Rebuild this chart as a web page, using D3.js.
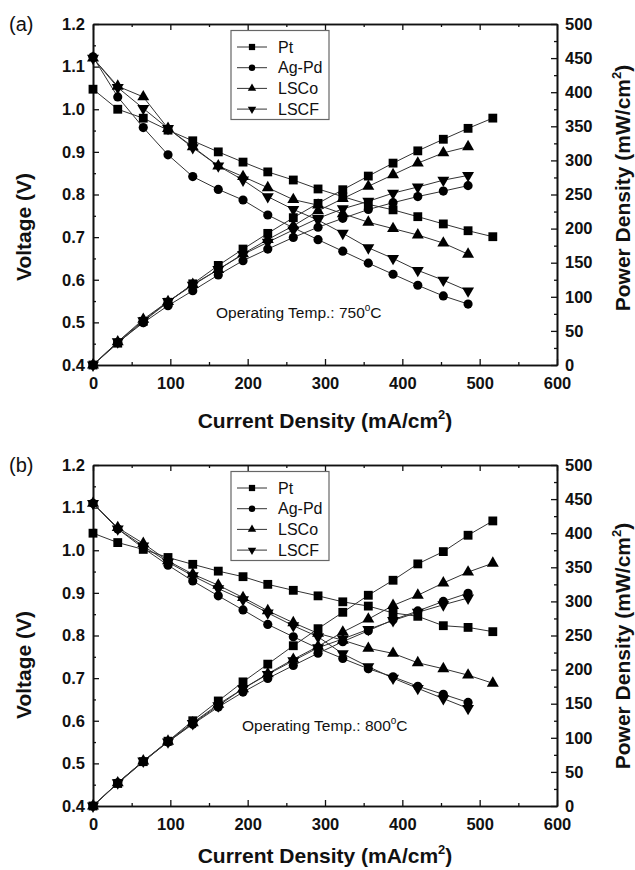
<!DOCTYPE html>
<html>
<head>
<meta charset="utf-8">
<script src="https://cdn.jsdelivr.net/npm/d3@7"></script>
<style>
  body { margin: 0; background: #fff; }
  svg { display: block; font-family: "Liberation Sans", Arial, sans-serif; }
</style>
</head>
<body>
<div id="chart"></div>
<script>
// current density (mA/cm2) shared by every series
const current = [0, 32, 65, 97, 129, 162, 194, 226, 259, 291, 323, 356, 388, 420, 453, 485, 517];
const materials = ["Pt", "Ag-Pd", "LSCo", "LSCF"];

// (a) 750 C
const voltA = {
  "Pt":    [1.047, 1.000, 0.979, 0.951, 0.926, 0.900, 0.876, 0.853, 0.834, 0.813, 0.795, 0.777, 0.764, 0.748, 0.731, 0.715, 0.701],
  "Ag-Pd": [1.123, 1.029, 0.957, 0.893, 0.842, 0.812, 0.787, 0.752, 0.722, 0.694, 0.667, 0.639, 0.613, 0.587, 0.562, 0.543],
  "LSCo":  [1.120, 1.054, 1.029, 0.955, 0.912, 0.867, 0.842, 0.816, 0.788, 0.775, 0.755, 0.735, 0.720, 0.705, 0.686, 0.660],
  "LSCF":  [1.120, 1.051, 1.002, 0.955, 0.910, 0.867, 0.834, 0.795, 0.765, 0.740, 0.709, 0.675, 0.650, 0.622, 0.599, 0.574]
};
const powerA = {
  "Pt":    [0, 32, 64, 92, 119, 146, 170, 193, 216, 237, 257, 277, 296, 314, 331, 347, 362],
  "Ag-Pd": [0, 33, 62, 87, 109, 132, 153, 170, 187, 202, 215, 228, 238, 247, 255, 263],
  "LSCo":  [0, 34, 67, 93, 118, 140, 163, 184, 204, 226, 244, 262, 279, 296, 311, 320],
  "LSCF":  [0, 34, 65, 93, 117, 140, 162, 180, 198, 215, 229, 240, 252, 261, 271, 278]
};

// (b) 800 C
const voltB = {
  "Pt":    [1.040, 1.018, 1.002, 0.983, 0.967, 0.951, 0.938, 0.920, 0.906, 0.893, 0.879, 0.869, 0.853, 0.845, 0.823, 0.819, 0.809],
  "Ag-Pd": [1.110, 1.050, 1.005, 0.965, 0.928, 0.893, 0.860, 0.826, 0.797, 0.770, 0.746, 0.722, 0.703, 0.681, 0.662, 0.643],
  "LSCo":  [1.110, 1.053, 1.016, 0.975, 0.944, 0.918, 0.889, 0.858, 0.830, 0.805, 0.789, 0.770, 0.758, 0.736, 0.722, 0.707, 0.688],
  "LSCF":  [1.110, 1.050, 1.010, 0.972, 0.940, 0.910, 0.884, 0.853, 0.823, 0.797, 0.757, 0.727, 0.700, 0.676, 0.652, 0.629]
};
const powerB = {
  "Pt":    [0, 33, 65, 95, 125, 154, 182, 208, 235, 260, 284, 309, 331, 355, 373, 397, 418],
  "Ag-Pd": [0, 34, 65, 94, 120, 145, 167, 187, 206, 224, 241, 257, 273, 286, 300, 312],
  "LSCo":  [0, 34, 66, 95, 122, 149, 172, 194, 215, 234, 255, 274, 294, 309, 327, 343, 356],
  "LSCF":  [0, 34, 66, 94, 121, 147, 172, 193, 213, 232, 245, 259, 272, 284, 295, 305]
};

const W = 635, H = 870;
const svg = d3.select("#chart").append("svg").attr("width", W).attr("height", H);

const symbols = {
  "Pt":    { type: d3.symbolSquare, size: 78, rot: 0 },
  "Ag-Pd": { type: d3.symbolCircle, size: 66, rot: 0 },
  "LSCo":  { type: d3.symbolTriangle, size: 62, rot: 0 },
  "LSCF":  { type: d3.symbolTriangle, size: 62, rot: 180 }
};

const panels = [
  { label: "(a)", top: 24, volt: voltA, power: powerA, temp: "750", annX: 216, annY: 318, vTitleY: 227, pTitleY: 188, xTitleY: 428 },
  { label: "(b)", top: 465, volt: voltB, power: powerB, temp: "800", annX: 242, annY: 731, vTitleY: 665, pTitleY: 646, xTitleY: 863 }
];

const left = 93, right = 557, ph = 341;

panels.forEach(p => {
  const g = svg.append("g").attr("transform", `translate(${left},${p.top})`);
  const pw = right - left;

  const x = d3.scaleLinear().domain([0, 600]).range([0, pw]);
  const yV = d3.scaleLinear().domain([0.4, 1.2]).range([ph, 0]);
  const yP = d3.scaleLinear().domain([0, 500]).range([ph, 0]);

  // minor ticks
  g.append("g").attr("transform", `translate(0,${ph})`)
    .call(d3.axisBottom(x).tickValues(d3.range(50, 600, 100)).tickSize(-3).tickSizeOuter(0).tickFormat(""));
  g.append("g")
    .call(d3.axisTop(x).tickValues(d3.range(50, 600, 100)).tickSize(-3).tickSizeOuter(0).tickFormat(""));
  g.append("g")
    .call(d3.axisLeft(yV).tickValues(d3.range(0.45, 1.2, 0.1)).tickSize(-3).tickSizeOuter(0).tickFormat(""));
  g.append("g").attr("transform", `translate(${pw},0)`)
    .call(d3.axisRight(yP).tickValues(d3.range(25, 500, 50)).tickSize(-3).tickSizeOuter(0).tickFormat(""));

  // major axes
  g.append("g").attr("class", "ax").attr("transform", `translate(0,${ph})`)
    .call(d3.axisBottom(x).tickValues(d3.range(0, 601, 100)).tickSize(-6).tickSizeOuter(0).tickPadding(12));
  g.append("g").attr("class", "ax")
    .call(d3.axisTop(x).tickValues(d3.range(0, 601, 100)).tickSize(-6).tickSizeOuter(0).tickFormat(""));
  g.append("g").attr("class", "ax")
    .call(d3.axisLeft(yV).tickValues([0.4, 0.5, 0.6, 0.7, 0.8, 0.9, 1.0, 1.1, 1.2]).tickSize(-6).tickSizeOuter(0).tickPadding(8).tickFormat(d3.format(".1f")));
  g.append("g").attr("class", "ax").attr("transform", `translate(${pw},0)`)
    .call(d3.axisRight(yP).tickValues(d3.range(0, 501, 50)).tickSize(-6).tickSizeOuter(0).tickPadding(8));

  g.selectAll(".domain").attr("stroke", "#111").attr("stroke-width", 1.6);
  g.selectAll(".tick line").attr("stroke", "#111").attr("stroke-width", 1.3);
  g.selectAll(".ax text").attr("font-size", 16.5).attr("font-weight", "bold")
    .attr("font-family", "'Liberation Sans', Arial, sans-serif").attr("fill", "#111");

  // series
  const line = d3.line().x(d => x(d[0])).y(d => d[1]);
  const plotSeries = (vals, yScale) => {
    materials.forEach(m => {
      const pts = vals[m].map((v, i) => [current[i], yScale(v)]);
      g.append("path").attr("d", line(pts)).attr("fill", "none")
        .attr("stroke", "#333").attr("stroke-width", 1);
    });
  };
  const plotMarks = (vals, yScale) => {
    materials.forEach(m => {
      const s = symbols[m];
      g.selectAll(null).data(vals[m]).enter().append("path")
        .attr("d", d3.symbol().type(s.type).size(s.size))
        .attr("transform", (v, i) => `translate(${x(current[i])},${yScale(v)}) rotate(${s.rot})`)
        .attr("fill", "#000");
    });
  };
  plotSeries(p.volt, yV);
  plotSeries(p.power, yP);
  plotMarks(p.volt, yV);
  plotMarks(p.power, yP);

  // legend
  const lg = g.append("g").attr("transform", `translate(${231 - left},6.5)`);
  lg.append("rect").attr("width", 98).attr("height", 89)
    .attr("fill", "#fff").attr("stroke", "#666").attr("stroke-width", 1.2);
  materials.forEach((m, i) => {
    const yy = 16.5 + i * 20.7;
    lg.append("line").attr("x1", 6).attr("x2", 36).attr("y1", yy).attr("y2", yy)
      .attr("stroke", "#333").attr("stroke-width", 1);
    const s = symbols[m];
    lg.append("path").attr("d", d3.symbol().type(s.type).size(s.size * 0.5))
      .attr("transform", `translate(21,${yy}) rotate(${s.rot})`).attr("fill", "#000");
    lg.append("text").attr("x", 47).attr("y", yy + 5.5).attr("font-size", 16)
      .attr("fill", "#111").text(m);
  });

  // panel label
  svg.append("text").attr("x", 9).attr("y", p.top + 7).attr("font-size", 20)
    .attr("fill", "#111").text(p.label);

  // annotation
  const ann = svg.append("text").attr("x", p.annX).attr("y", p.annY).attr("font-size", 15.5)
    .attr("fill", "#111").text(`Operating Temp.: ${p.temp}`);
  ann.append("tspan").attr("font-size", 10).attr("dy", -7).text("o");
  ann.append("tspan").attr("dy", 7).text("C");

  // axis titles
  const xt = svg.append("text").attr("x", (left + right) / 2).attr("y", p.xTitleY)
    .attr("text-anchor", "middle").attr("font-size", 21).attr("font-weight", "bold")
    .attr("fill", "#111").text("Current Density (mA/cm");
  xt.append("tspan").attr("font-size", 13).attr("dy", -9).text("2");
  xt.append("tspan").attr("dy", 9).text(")");

  svg.append("text").attr("transform", `translate(31,${p.vTitleY}) rotate(-90)`)
    .attr("text-anchor", "middle").attr("font-size", 21).attr("font-weight", "bold")
    .attr("fill", "#111").text("Voltage (V)");

  const pt = svg.append("text").attr("transform", `translate(630,${p.pTitleY}) rotate(-90)`)
    .attr("text-anchor", "middle").attr("font-size", 21).attr("font-weight", "bold")
    .attr("fill", "#111").text("Power Density (mW/cm");
  pt.append("tspan").attr("font-size", 13).attr("dy", -9).text("2");
  pt.append("tspan").attr("dy", 9).text(")");
});
</script>
</body>
</html>
